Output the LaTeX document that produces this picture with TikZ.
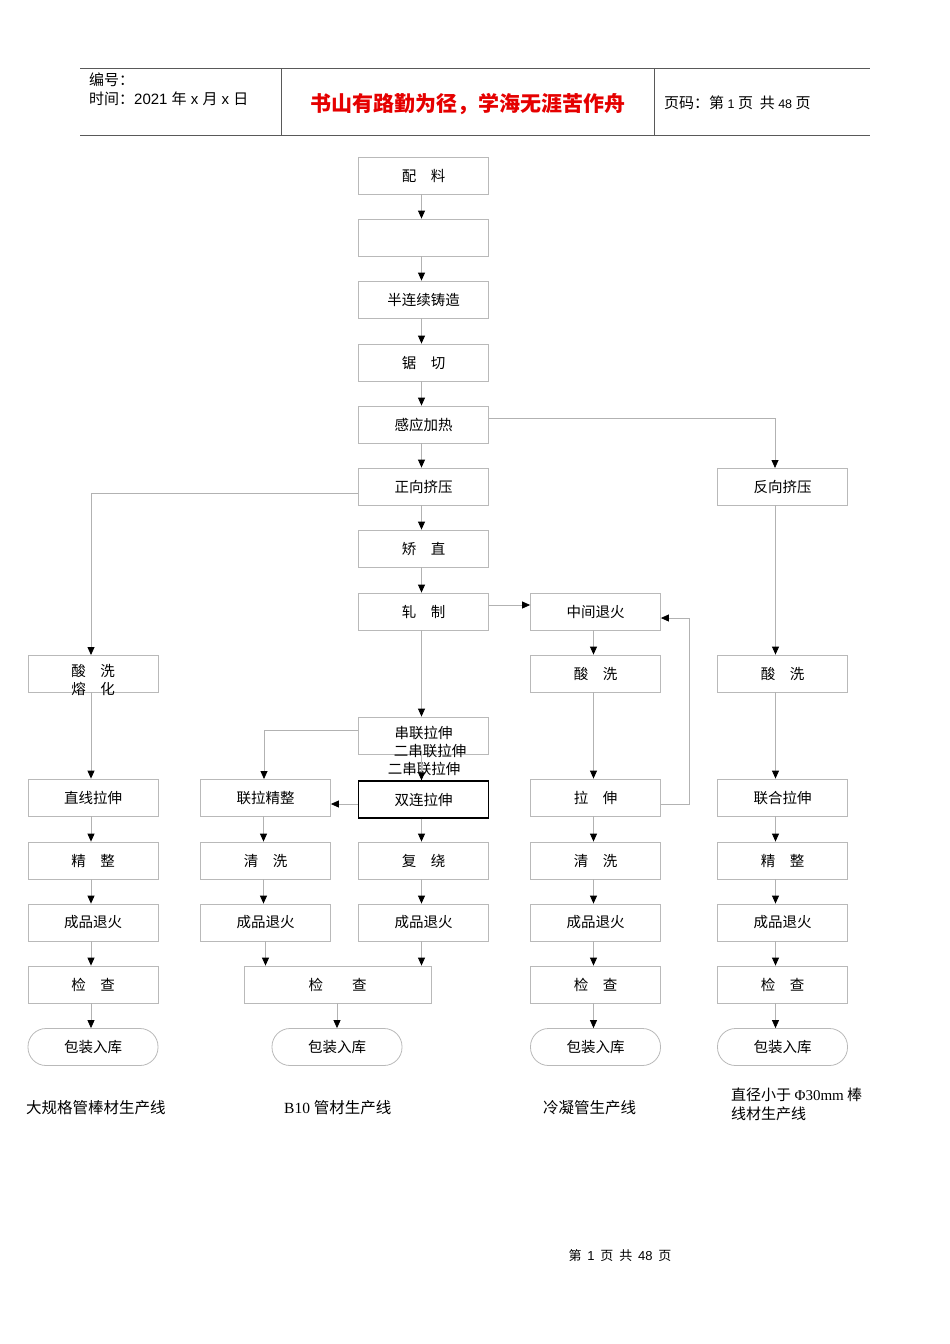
\documentclass[tikz,border=0pt]{standalone}
\usepackage{fontspec}
\setmainfont{Noto Sans CJK SC}
\newfontfamily\lsans{Liberation Sans}
\newfontfamily\lserif{Liberation Serif}
\usetikzlibrary{arrows.meta}
\tikzset{
 box/.style={draw=gray!55,line width=0.8pt,minimum width=130pt,minimum height=37pt,inner sep=0pt,font=\fontsize{14.5}{16}\selectfont},
 pill/.style={box,rounded corners=18pt},
 cn/.style={draw=gray!60,line width=0.8pt,-{Triangle[black,length=8pt,width=7pt]}},
 txt/.style={inner sep=0pt,font=\fontsize{14.5}{16}\selectfont},
 lbl/.style={inner sep=0pt,anchor=west,font=\fontsize{15.5}{17}\selectfont},
}
\begin{document}
\begin{tikzpicture}[x=1pt,y=-1pt]
\useasboundingbox (0,0) rectangle (950,1344);
% header
\draw[gray!70!black,line width=1pt] (80,68)--(870,68) (80,135)--(870,135);
\draw[gray!70!black,line width=0.8pt] (281,68)--(281,135) (654,68)--(654,135);
\node[anchor=west,inner sep=0pt,font=\fontsize{15}{17}\selectfont] (h1) at (89,80) {编号：};
\node[anchor=west,inner sep=0pt,font=\fontsize{15}{17}\selectfont] (h2) at (89,99) {时间：{\lsans 2021 }年{\lsans\ x }月{\lsans\ x }日};
\node[inner sep=0pt,font=\bfseries\fontsize{21}{22}\selectfont,text=red!90!black] (h3) at (468,104) {书山有路勤为径，学海无涯苦作舟};
\node[anchor=west,inner sep=0pt,font=\fontsize{15}{17}\selectfont] (h4) at (664,103) {页码：第{\lsans\fontsize{12.5}{14}\selectfont\ 1 }页\ \ 共{\lsans\fontsize{12.5}{14}\selectfont\ 48 }页};
% center column
\node[box] (a1) at (423.5,175.5) {配\quad 料};
\node[box] (a2) at (423.5,237.5) {};
\node[box] (a3) at (423.5,299.5) {半连续铸造};
\node[box] (a4) at (423.5,362.5) {锯\quad 切};
\node[box] (a5) at (423.5,424.5) {感应加热};
\node[box] (a6) at (423.5,486.5) {正向挤压};
\node[box] (a7) at (423.5,548.5) {矫\quad 直};
\node[box] (a8) at (423.5,611.5) {轧\quad 制};
\node[box] (a9) at (423.5,735.5) {};
\node[txt] (a9t) at (423.5,733) {串联拉伸};
\node[txt] (a9u) at (430,751) {二串联拉伸};
\node[txt] (a9v) at (424,769) {二串联拉伸};
\node[box,draw=black,line width=1.3pt] (a10) at (423.5,799.5) {双连拉伸};
\node[box] (a11) at (423.5,860.5) {复\quad 绕};
\node[box] (a12) at (423.5,922.5) {成品退火};
% column 2
\node[box] (b1) at (265.5,797.5) {联拉精整};
\node[box] (b2) at (265.5,860.5) {清\quad 洗};
\node[box] (b3) at (265.5,922.5) {成品退火};
\node[box,minimum width=187pt] (b4) at (337.5,984.5) {检\qquad 查};
\node[pill] (b5) at (337,1047) {包装入库};
% left column
\node[box] (c1) at (93,673.5) {};
\node[txt] (c1t) at (93,671) {酸\quad 洗};
\node[txt] (c1u) at (93,689) {熔\quad 化};
\node[box] (c2) at (93,797.5) {直线拉伸};
\node[box] (c3) at (93,860.5) {精\quad 整};
\node[box] (c4) at (93,922.5) {成品退火};
\node[box] (c5) at (93,984.5) {检\quad 查};
\node[pill] (c6) at (93,1047) {包装入库};
% column 4
\node[box] (d1) at (595.5,611.5) {中间退火};
\node[box] (d2) at (595.5,673.5) {酸\quad 洗};
\node[box] (d3) at (595.5,797.5) {拉\quad 伸};
\node[box] (d4) at (595.5,860.5) {清\quad 洗};
\node[box] (d5) at (595.5,922.5) {成品退火};
\node[box] (d6) at (595.5,984.5) {检\quad 查};
\node[pill] (d7) at (595.5,1047) {包装入库};
% column 5
\node[box] (e1) at (782.5,486.5) {反向挤压};
\node[box] (e2) at (782.5,673.5) {酸\quad 洗};
\node[box] (e3) at (782.5,797.5) {联合拉伸};
\node[box] (e4) at (782.5,860.5) {精\quad 整};
\node[box] (e5) at (782.5,922.5) {成品退火};
\node[box] (e6) at (782.5,984.5) {检\quad 查};
\node[pill] (e7) at (782.5,1047) {包装入库};
% connectors
\foreach \p/\q in {a1/a2,a2/a3,a3/a4,a4/a5,a5/a6,a6/a7,a7/a8,a8/a9,a11/a12,
  b1/b2,b2/b3,c1/c2,c2/c3,c3/c4,c4/c5,c5/c6,d1/d2,d2/d3,d3/d4,d4/d5,d5/d6,d6/d7,a10/a11}
  \draw[cn] ([xshift=-2pt]\p.south) -- ([xshift=-2pt]\q.north);
\foreach \p/\q in {e1/e2,e2/e3,e3/e4,e4/e5,e5/e6,e6/e7}
  \draw[cn] ([xshift=-7pt]\p.south) -- ([xshift=-7pt]\q.north);
\draw[cn] ([xshift=-2pt]a9.south) -- ([xshift=-2pt]a10.north);
\draw[cn] (b3.south) -- (b3.south |- b4.north);
\draw[cn] ([xshift=-2pt]a12.south) -- ([xshift=-2pt]a12.south |- b4.north);
\draw[cn] (b4.south -| b5.north) -- (b5.north);
\draw[cn] (a5.east |- 0,418) -- (775,418) -- (775,468);
\draw[cn] (a6.west |- 0,493) -- (91,493) -- (91,655);
\draw[cn] (a8.east |- 0,605) -- (d1.west |- 0,605);
\draw[cn] (d3.east |- 0,804) -- (689,804) -- (689,618) -- (d1.east |- 0,618);
\draw[cn] (a9.west |- 0,730) -- (264,730) -- (264,779);
\draw[cn] (a10.west |- 0,804) -- (b1.east |- 0,804);
% bottom labels
\node[lbl] (l1) at (26,1108) {大规格管棒材生产线};
\node[lbl] (l2) at (284,1108) {{\lserif B10 }管材生产线};
\node[lbl] (l3) at (543,1108) {冷凝管生产线};
\node[lbl,align=left,font=\fontsize{15}{19}\selectfont] (l4) at (731,1104) {直径小于\ {\lserif Φ30mm}\ 棒\\线材生产线};
\node[inner sep=0pt,font=\fontsize{13}{15}\selectfont] (ft) at (620,1256) {第\ \ {\lsans 1}\ \ 页\ \ 共\ \ {\lsans 48}\ \ 页};
\end{tikzpicture}
\end{document}
